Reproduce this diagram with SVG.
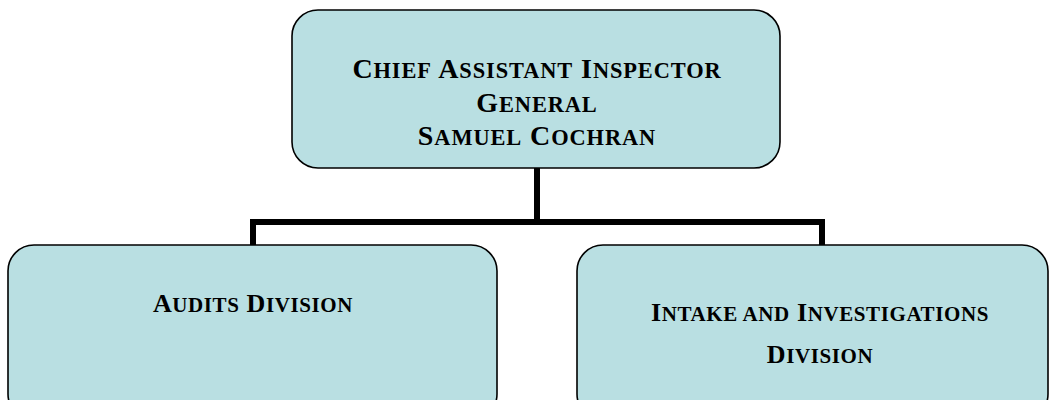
<svg xmlns="http://www.w3.org/2000/svg" width="1050" height="400" viewBox="0 0 1050 400">
<style>
.box{fill:#b9dfe2;stroke:#000;stroke-width:1.6}
.t{font-family:"Liberation Serif","Times New Roman",serif;font-weight:bold;fill:#000;text-anchor:middle}
.top{font-size:28px;letter-spacing:0.9px}
.top .s{font-size:22.4px}
.low{font-size:26px;letter-spacing:0.6px}
.low .s{font-size:21px}
.conn{fill:none;stroke:#000;stroke-width:6;stroke-linejoin:miter}
</style>
<rect width="1050" height="400" fill="#fff"/>
<g id="connectors">
<path class="conn" d="M537,168 V222 M253,246 V222 H822 V246"/>
</g>
<g id="chief">
<rect class="box" x="292" y="10" width="488" height="158" rx="26"/>
<text class="t top" x="537" y="78">C<tspan class="s">HIEF</tspan> A<tspan class="s">SSISTANT</tspan> I<tspan class="s">NSPECTOR</tspan></text>
<text class="t top" x="537" y="112">G<tspan class="s">ENERAL</tspan></text>
<text class="t top" x="537" y="145">S<tspan class="s">AMUEL</tspan> C<tspan class="s">OCHRAN</tspan></text>
</g>
<g id="audits">
<rect class="box" x="8" y="245" width="489" height="175" rx="26"/>
<text class="t low" x="253" y="312">A<tspan class="s">UDITS</tspan> D<tspan class="s">IVISION</tspan></text>
</g>
<g id="intake">
<rect class="box" x="577" y="245" width="471" height="175" rx="26"/>
<text class="t low" x="820" y="321">I<tspan class="s">NTAKE AND</tspan> I<tspan class="s">NVESTIGATIONS</tspan></text>
<text class="t low" x="820" y="363">D<tspan class="s">IVISION</tspan></text>
</g>
</svg>
